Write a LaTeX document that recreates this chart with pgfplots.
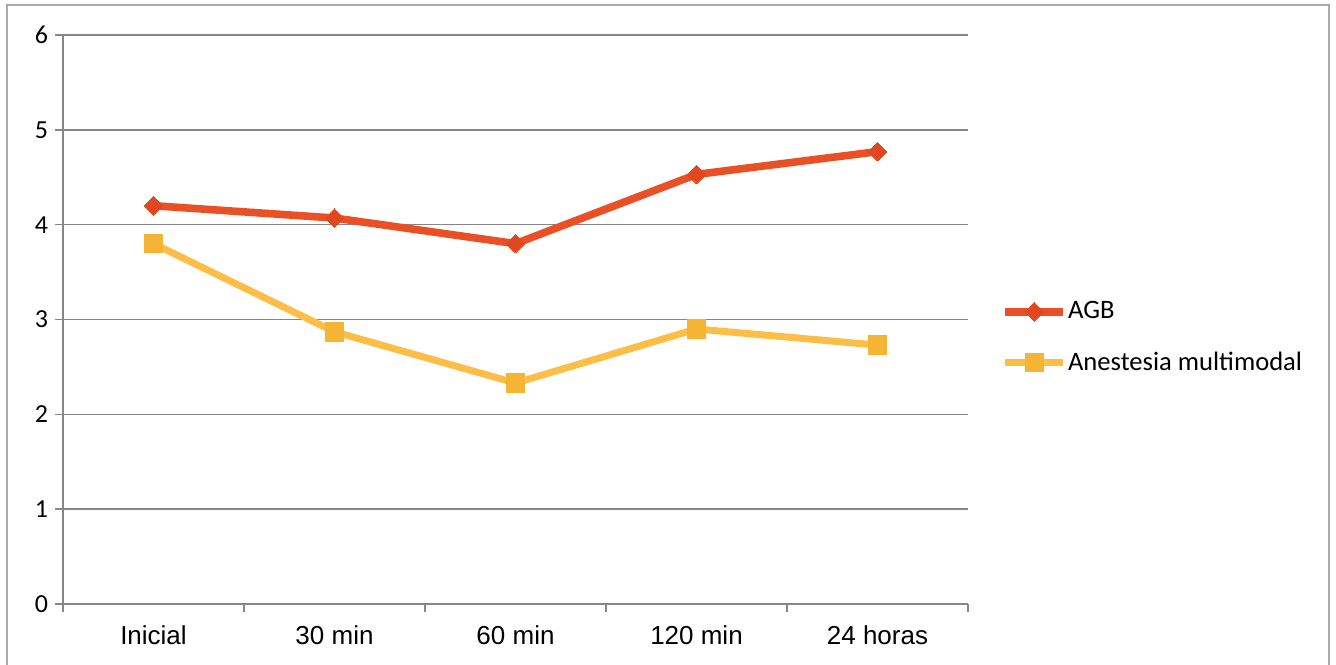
\documentclass[border=0pt]{standalone}
\usepackage{pgfplots}
\pgfplotsset{compat=1.18}
\usepackage{fontspec}
\setmainfont{Carlito}
\newfontfamily\arialfont{Liberation Sans}
\definecolor{agbred}{RGB}{233,80,38}
\definecolor{agbmark}{RGB}{226,72,32}
\definecolor{multiyel}{RGB}{253,190,72}
\definecolor{multimark}{RGB}{246,180,52}
\definecolor{gridgray}{RGB}{134,134,134}
\definecolor{framegray}{RGB}{170,170,170}

\begin{document}
\begin{tikzpicture}
\useasboundingbox (0,0) rectangle (668pt,332pt);
% outer chart frame
\draw[framegray, line width=1pt] (3.5pt,-10pt) rectangle (664.5pt,329.5pt);
\begin{axis}[
    at={(31.5pt,30pt)}, anchor=south west,
    scale only axis,
    width=452.5pt, height=284.5pt,
    xmin=0.5, xmax=5.5,
    ymin=0, ymax=6,
    xtick={0.5,1.5,2.5,3.5,4.5,5.5},
    xticklabels={Inicial, 30 min, 60 min, 120 min, 24 horas},
    x tick label as interval,
    ytick={0,1,2,3,4,5,6},
    axis x line*=bottom, axis y line*=left,
    axis line style={draw=gridgray, line width=0.75pt, -},
    ymajorgrids,
    major grid style={draw=gridgray, line width=0.75pt},
    tick align=outside,
    major tick length=4pt,
    tick style={draw=gridgray, line width=0.75pt},
    x tick label style={font=\arialfont\fontsize{13}{15}\selectfont, yshift=-3.5pt},
    y tick label style={font=\fontsize{13}{15}\selectfont},
    /pgf/number format/assume math mode=true,
    legend style={draw=none, fill=none, inner sep=0pt,
        nodes={inner sep=0.5pt},
        font=\fontsize{13.3}{15}\selectfont,
        at={(1.0365,0.4684)}, anchor=west,
        row sep=14pt},
    legend cell align=left,
    legend image code/.code={
        \draw[mark repeat=2,mark phase=2,#1] plot coordinates {(0pt,0pt) (14.5pt,0pt) (29pt,0pt)};
    },
]

\addplot[color=agbred, line width=3.8pt, mark=square*, mark size=3.3pt,
    mark options={rotate=45, fill=agbmark, draw=agbmark, line width=0pt}]
    coordinates {(1,4.20) (2,4.07) (3,3.80) (4,4.53) (5,4.77)};
\addlegendentry{AGB}

\addplot[color=multiyel, line width=3.5pt, mark=square*, mark size=4.6pt,
    mark options={fill=multimark, draw=multimark, line width=0pt}]
    coordinates {(1,3.80) (2,2.87) (3,2.33) (4,2.90) (5,2.73)};
\addlegendentry{Anestesia multimodal}

\end{axis}
\end{tikzpicture}
\end{document}
